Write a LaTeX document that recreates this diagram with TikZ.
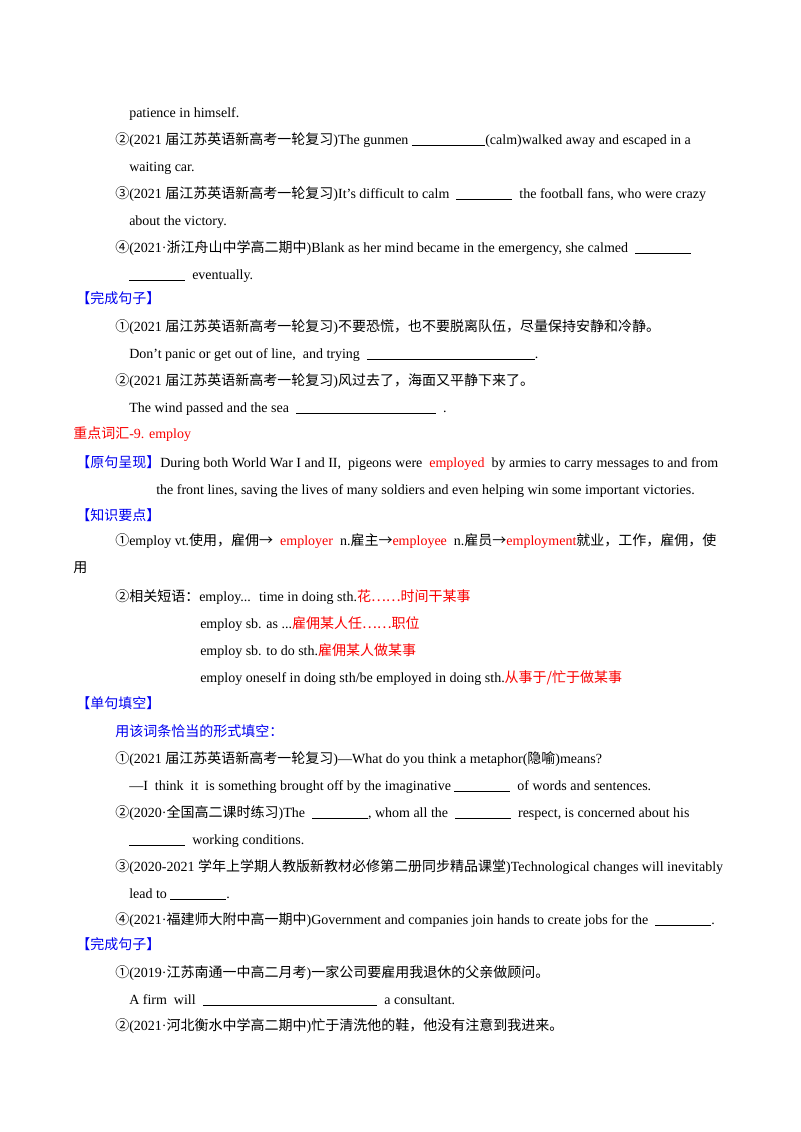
\documentclass[tikz,border=0pt]{standalone}
\usepackage{fontspec}
\setmainfont{Liberation Serif}
\newfontfamily\cjk{Noto Sans CJK SC}[Scale=1.0]
\newcommand\zh[1]{{\cjk #1}}
\newcommand\blk[1]{\rule[-1.5pt]{#1pt}{0.5pt}}
\definecolor{hdblue}{RGB}{0,0,240}
\definecolor{kred}{RGB}{250,0,0}
\newcommand\R[1]{\textcolor{kred}{#1}}
\begin{document}
\begin{tikzpicture}[x=0.75pt,y=-0.75pt,
  ln/.style={anchor=base west,inner sep=0pt,font=\fontsize{10.5}{12}\selectfont}]
\fill[white] (0,0) rectangle (800,1132);
\useasboundingbox (0,0) rectangle (800,1132);
\node[ln] (l1) at (129,117) {patience in himself.};
\node[ln] (l2) at (115,144) {\zh{②}(2021 \zh{届江苏英语新高考一轮复习})The gunmen \blk{55}(calm)walked away and escaped in a};
\node[ln] (l3) at (129,171) {waiting car.};
\node[ln] (l4) at (115,198) {\zh{③}(2021 \zh{届江苏英语新高考一轮复习})It's difficult to calm \ \blk{42} \ the football fans, who were crazy};
\node[ln] (l5) at (129,225) {about the victory.};
\node[ln] (l6) at (115,252) {\zh{④}(2021·\zh{浙江舟山中学高二期中})Blank as her mind became in the emergency, she calmed \ \blk{42}};
\node[ln] (l7) at (129,279) {\blk{42} \ eventually.};
\node[ln] (l8) at (76,303) {\textcolor{hdblue}{\zh{【完成句子】}}};
\node[ln] (l9) at (115,331) {\zh{①}(2021 \zh{届江苏英语新高考一轮复习})\zh{不要恐慌，也不要脱离队伍，尽量保持安静和冷静。}};
\node[ln] (l10) at (129,358) {Don't panic or get out of line, \ and trying \ \blk{126}.};
\node[ln] (l11) at (115,385) {\zh{②}(2021 \zh{届江苏英语新高考一轮复习})\zh{风过去了，海面又平静下来了。}};
\node[ln] (l12) at (129,412) {The wind passed and the sea \ \blk{105} \ .};
\node[ln] (l13) at (73,438) {\R{\zh{重点词汇}-9. employ}};
\node[ln] (l14) at (76,467) {\textcolor{hdblue}{\zh{【原句呈现】}}During both World War I and II, \ pigeons were \ \R{employed} \ by armies to carry messages to and from};
\node[ln] (l15) at (156,494) {the front lines, saving the lives of many soldiers and even helping win some important victories.};
\node[ln] (l16) at (76,520) {\textcolor{hdblue}{\zh{【知识要点】}}};
\node[ln] (l17) at (115,545) {\zh{①}employ vt.\zh{使用，雇佣}\zh{→} \ \R{employer} \ n.\zh{雇主}\zh{→}\R{employee} \ n.\zh{雇员}\zh{→}\R{employment}\zh{就业，工作，雇佣，使}};
\node[ln] (l18) at (73,572) {\zh{用}};
\node[ln] (l19) at (115,601) {\zh{②相关短语：}employ... \ time in doing sth.\R{\zh{花……时间干某事}}};
\node[ln] (l20) at (200,628) {employ sb. as ...\R{\zh{雇佣某人任……职位}}};
\node[ln] (l21) at (200,655) {employ sb. to do sth.\R{\zh{雇佣某人做某事}}};
\node[ln] (l22) at (200,682) {employ oneself in doing sth/be employed in doing sth.\R{\zh{从事于/忙于做某事}}};
\node[ln] (l23) at (76,708) {\textcolor{hdblue}{\zh{【单句填空】}}};
\node[ln] (l24) at (115,736) {\textcolor{hdblue}{\zh{用该词条恰当的形式填空：}}};
\node[ln] (l25) at (115,763) {\zh{①}(2021 \zh{届江苏英语新高考一轮复习})---What do you think a metaphor(\zh{隐喻})means?};
\node[ln] (l26) at (129,790) {---I \ think \ it \ is something brought off by the imaginative \blk{42} \ of words and sentences.};
\node[ln] (l27) at (115,817) {\zh{②}(2020·\zh{全国高二课时练习})The \ \blk{42}, whom all the \ \blk{42} \ respect, is concerned about his};
\node[ln] (l28) at (129,844) {\blk{42} \ working conditions.};
\node[ln] (l29) at (115,871) {\zh{③}(2020-2021 \zh{学年上学期人教版新教材必修第二册同步精品课堂})Technological changes will inevitably};
\node[ln] (l30) at (129,898) {lead to \blk{42}.};
\node[ln] (l31) at (115,924) {\zh{④}(2021·\zh{福建师大附中高一期中})Government and companies join hands to create jobs for the \ \blk{42}.};
\node[ln] (l32) at (76,949) {\textcolor{hdblue}{\zh{【完成句子】}}};
\node[ln] (l33) at (115,977) {\zh{①}(2019·\zh{江苏南通一中高二月考})\zh{一家公司要雇用我退休的父亲做顾问。}};
\node[ln] (l34) at (129,1004) {A firm \ will \ \blk{131} \ a consultant.};
\node[ln] (l35) at (115,1030) {\zh{②}(2021·\zh{河北衡水中学高二期中})\zh{忙于清洗他的鞋，他没有注意到我进来。}};
\end{tikzpicture}
\end{document}
